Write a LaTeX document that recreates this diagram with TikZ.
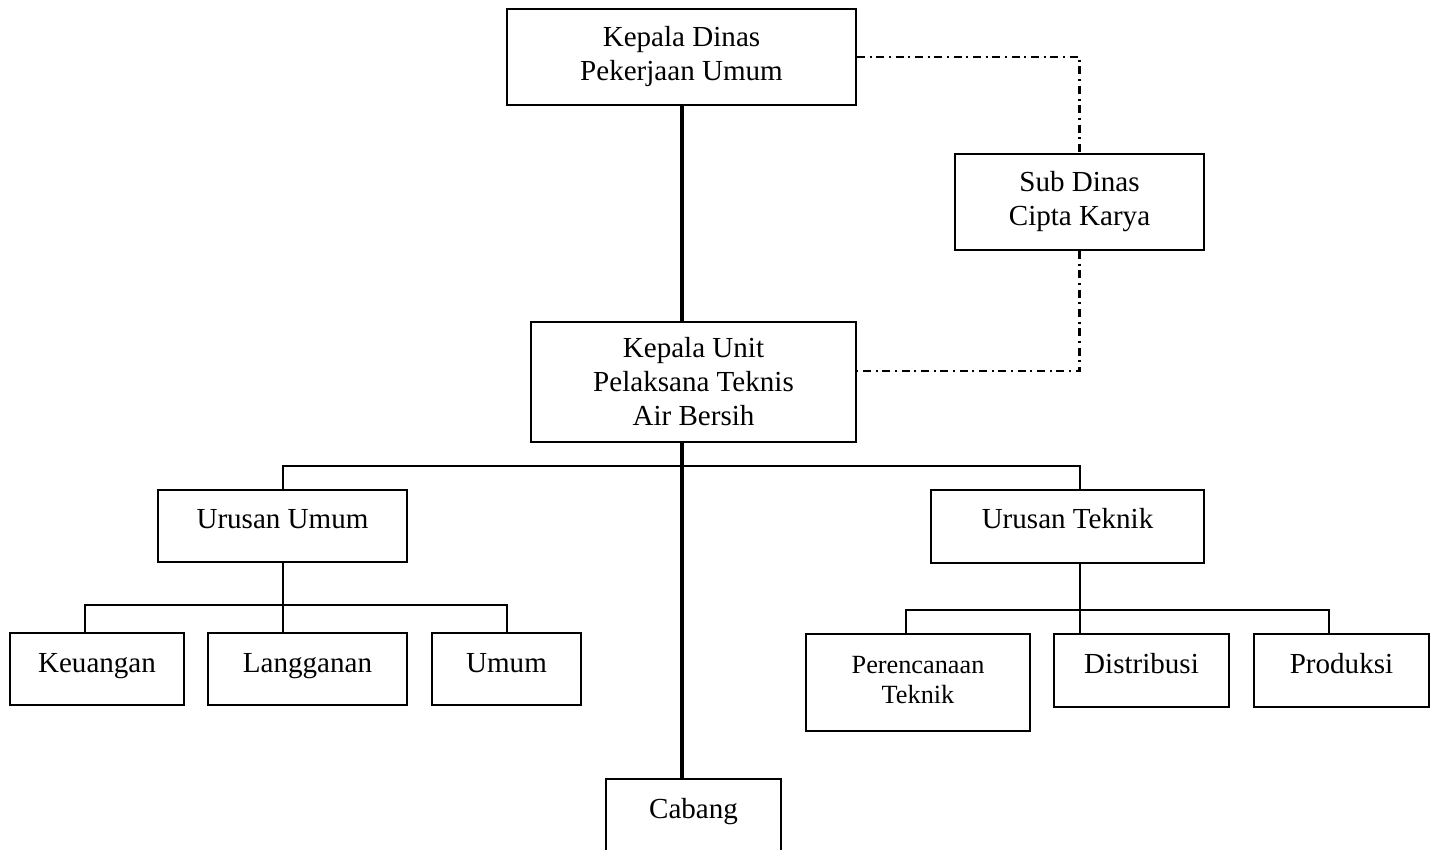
\documentclass[tikz,border=0pt]{standalone}
\usepackage{fontspec}
\setmainfont{Liberation Serif}
\usetikzlibrary{calc}
\begin{document}
\begin{tikzpicture}[x=0.75pt,y=-0.75pt,
  box/.style={draw, line width=1.5pt, align=center, inner sep=0pt,
    font=\fontsize{21.8}{25.5}\selectfont},
  onebox/.style={box, text height=15pt, text depth=10pt},
  smallbox/.style={box, font=\fontsize{19.7}{22.5}\selectfont},
  conn/.style={line width=1.6pt},
  trunk/.style={line width=2.6pt},
  dashdotline/.style={line width=1.8pt, dash pattern=on 6pt off 3.5pt on 1.5pt off 3.5pt}]
\useasboundingbox (0,0) rectangle (1434,849);
\fill[white] (0,0) rectangle (1434,849);

\node[box, minimum width=261.75pt, minimum height=72pt] (kd) at (681.5,57) {Kepala Dinas\\Pekerjaan Umum};
\node[box, minimum width=186.75pt, minimum height=72pt] (sd) at (1079.5,202) {Sub Dinas\\Cipta Karya};
\node[box, minimum width=243.75pt, minimum height=90pt] (ku) at (693.5,382) {Kepala Unit\\Pelaksana Teknis\\Air Bersih};
\node[onebox, text depth=11.5pt, minimum width=186.75pt, minimum height=54pt] (uu) at (282.5,526) {Urusan Umum};
\node[onebox, text depth=11.5pt, minimum width=204.75pt, minimum height=54.75pt] (ut) at (1067.5,526.5) {Urusan Teknik};
\node[onebox, minimum width=130.5pt, minimum height=54pt] (ke) at (97,669) {Keuangan};
\node[onebox, minimum width=149.25pt, minimum height=54pt] (la) at (307.5,669) {Langganan};
\node[onebox, minimum width=111.75pt, minimum height=54pt] (um) at (506.5,669) {Umum};
\node[smallbox, minimum width=168pt, minimum height=72.75pt] (pt) at (918,682.5) {Perencanaan\\Teknik\\[-18pt]\mbox{}};
\node[onebox, minimum width=131.25pt, minimum height=54.75pt] (di) at (1141.5,670.5) {Distribusi};
\node[onebox, minimum width=131.25pt, minimum height=54.75pt] (pr) at (1341.5,670.5) {Produksi};
\node[box, minimum width=131.25pt, minimum height=72pt, anchor=north] (cab) at (693.5,778) {Cabang\\[2pt]\mbox{}};

% trunk
\coordinate (tx) at (682,0);
\draw[trunk] (tx |- kd.south) -- (tx |- ku.north);
\draw[trunk] (tx |- ku.south) -- (tx |- cab.north);

% main bus
\coordinate (b1) at (283,466);
\coordinate (b1r) at (1080,466);
\draw[conn] (b1 |- uu.north) -- (b1) -- (b1r) -- (b1r |- ut.north);

% Urusan Umum subtree
\coordinate (k1) at (85,605);
\coordinate (k2) at (283,605);
\coordinate (k3) at (507,605);
\draw[conn] (k2 |- uu.south) -- (k2 |- la.north);
\draw[conn] (k1 |- ke.north) -- (k1) -- (k3) -- (k3 |- um.north);

% Urusan Teknik subtree
\coordinate (t1) at (906,610);
\coordinate (t2) at (1080,610);
\coordinate (t3) at (1329,610);
\draw[conn] (t2 |- ut.south) -- (t2 |- di.north);
\draw[conn] (t1 |- pt.north) -- (t1) -- (t3) -- (t3 |- pr.north);

% dash-dot staff lines
\draw[dashdotline] (kd.east) -| (sd.north);
\draw[dashdotline] (sd.south) |- ([yshift=8.25pt]ku.east);
\end{tikzpicture}
\end{document}
